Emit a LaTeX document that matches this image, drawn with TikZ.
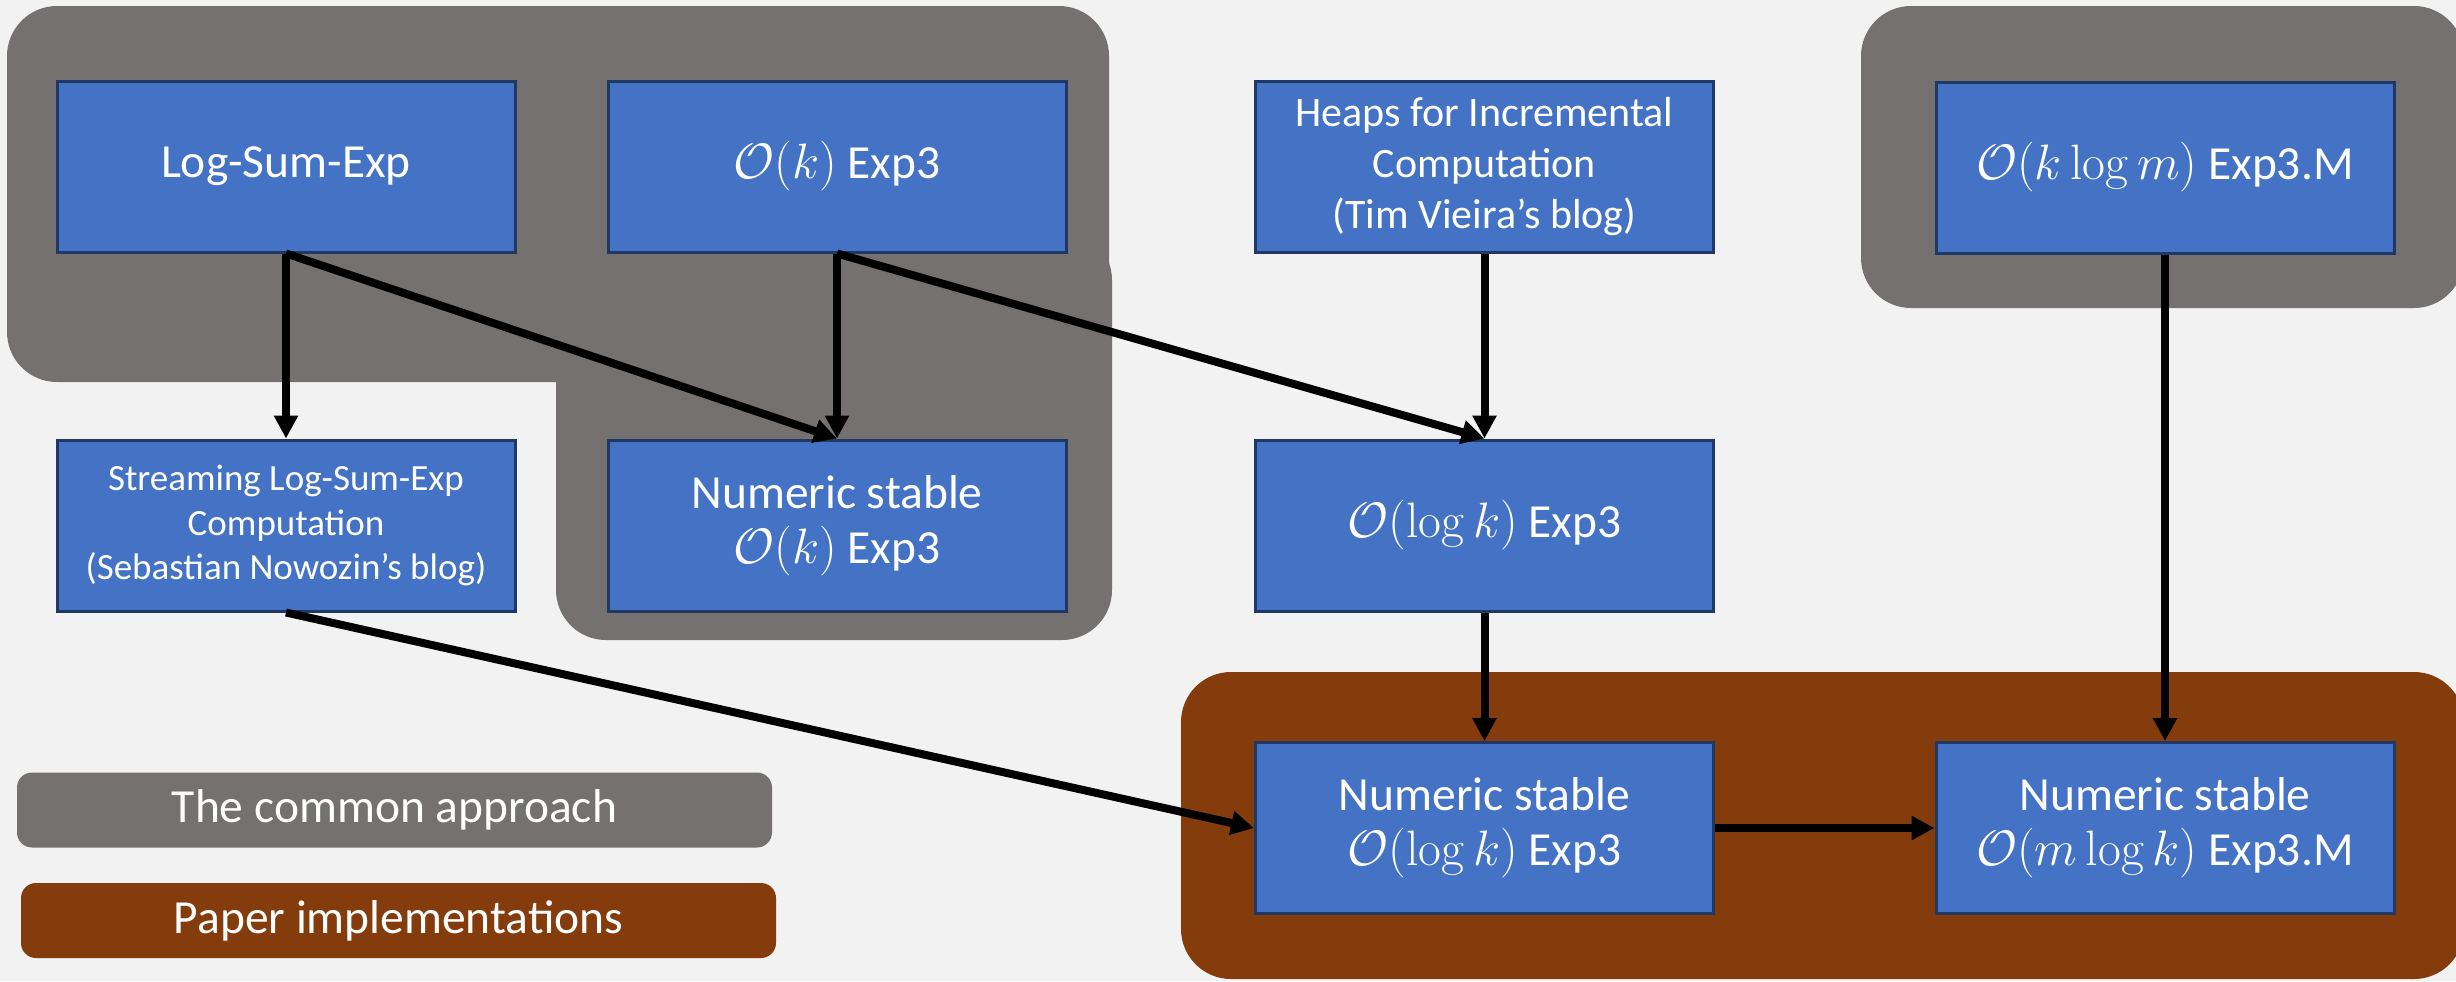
\documentclass[tikz,border=0pt]{standalone}
\usepackage[no-math]{fontspec}
\setmainfont{Carlito}
\usetikzlibrary{arrows.meta}

\definecolor{pagebg}{HTML}{F2F2F2}
\definecolor{commongray}{HTML}{767171}
\definecolor{paperbrown}{HTML}{843C0C}
\definecolor{boxblue}{HTML}{4472C4}
\definecolor{boxedge}{HTML}{203864}

\tikzset{
  algbox/.style={draw=boxedge, line width=1.5pt, fill=boxblue, text=white,
    minimum width=229pt, minimum height=85.5pt, inner sep=0pt, align=center,
    font=\fontsize{23.75}{27.5}\selectfont},
  sourcebox/.style={algbox, font=\fontsize{21}{25.5}\selectfont},
  streambox/.style={algbox, font=\fontsize{18.5}{22.3}\selectfont},
  flow/.style={line width=4pt, -{Triangle[length=11.5pt,width=11.5pt]}},
  legendbox/.style={rounded corners=7.5pt, text=white, inner sep=0pt,
    minimum width=377.5pt, minimum height=37.5pt,
    font=\fontsize{23.75}{28.5}\selectfont},
  region/.style={rounded corners=25pt}
}

\begin{document}
\begin{tikzpicture}[x=0.5pt, y=-0.5pt]
  % page
  \useasboundingbox (0,0) rectangle (2456,981);
  \fill[pagebg] (0,0) rectangle (2456,981);

  \begin{scope}
    \clip (0,0) rectangle (2456,981);
    % grouping regions
    \fill[commongray, region] (7,6) rectangle (1109,382);
    \fill[commongray, region] (556,230) rectangle (1112,640);
    \fill[commongray, region] (1861,6) rectangle (2464,308);
    \fill[paperbrown, region] (1181,672) rectangle (2464,979);
  \end{scope}

  % legend
  \node[legendbox, fill=commongray] (legcommon) at (394.5,810) {The common approach};
  \node[legendbox, fill=paperbrown] (legpaper) at (398.5,920.5) {Paper implementations};

  % algorithm boxes
  \node[algbox] (lse) at (286,166.5) {Log-Sum-Exp};
  \node[algbox] (ok) at (837,166.5) {$\mathcal{O}(k)$ Exp3};
  \node[sourcebox] (heaps) at (1484.5,166.5) {Heaps for Incremental\\Computation\\(Tim Vieira’s blog)};
  \node[algbox] (oklogm) at (2165,167.5) {$\mathcal{O}(k\log m)$ Exp3.M};

  \node[streambox] (stream) at (286,525.5) {Streaming Log-Sum-Exp\\Computation\\(Sebastian Nowozin’s blog)};
  \node[algbox] (nok) at (837,525.5) {Numeric stable\\$\mathcal{O}(k)$ Exp3};
  \node[algbox] (ologk) at (1484.5,525.5) {$\mathcal{O}(\log k)$ Exp3};

  \node[algbox] (nlogk) at (1484.5,828) {Numeric stable\\$\mathcal{O}(\log k)$ Exp3};
  \node[algbox] (nmlogk) at (2165,828) {Numeric stable\\$\mathcal{O}(m\log k)$ Exp3.M};

  % dependencies
  \draw[flow] (lse.south) -- (stream.north);
  \draw[flow] (lse.south) -- (nok.north);
  \draw[flow] (ok.south) -- (nok.north);
  \draw[flow] (ok.south) -- (ologk.north);
  \draw[flow] (heaps.south) -- (ologk.north);
  \draw[flow] (ologk.south) -- (nlogk.north);
  \draw[flow] (stream.south) -- (nlogk.west);
  \draw[flow] (nlogk.east) -- (nmlogk.west);
  \draw[flow] (oklogm.south) -- (nmlogk.north);
\end{tikzpicture}
\end{document}
